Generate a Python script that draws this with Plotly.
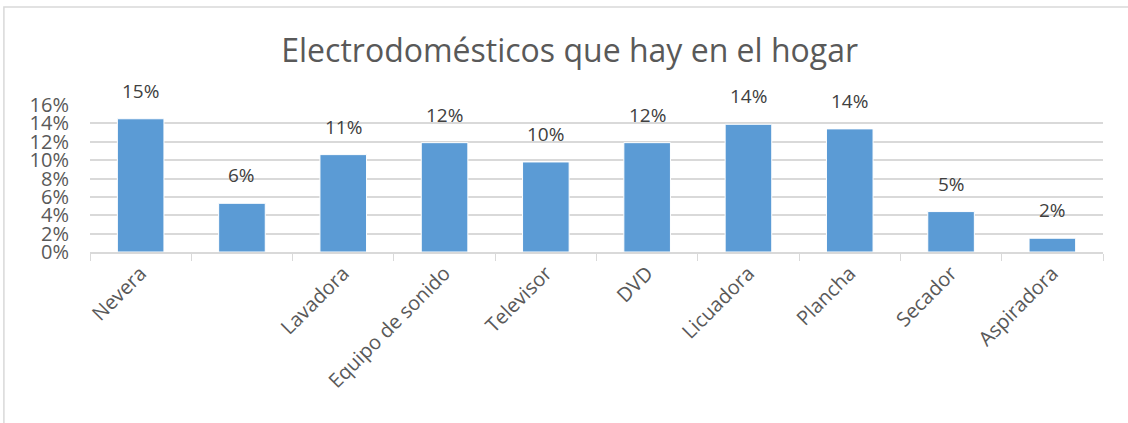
import plotly.graph_objects as go

categories = ["Nevera", " ", "Lavadora", "Equipo de sonido", "Televisor", "DVD",
              "Licuadora", "Plancha", "Secador", "Aspiradora"]
values = [0.145, 0.053, 0.106, 0.119, 0.098, 0.119, 0.139, 0.134, 0.044, 0.015]
labels = ["15%", "6%", "11%", "12%", "10%", "12%", "14%", "14%", "5%", "2%"]
y_ticks = [0, 0.02, 0.04, 0.06, 0.08, 0.10, 0.12, 0.14, 0.16]

FONT = "Open Sans"
GREY = "#595959"

fig = go.Figure()
fig.add_trace(go.Bar(
    x=categories, y=values, width=0.46,
    marker=dict(color="#5B9BD5", line=dict(color="white", width=1)),
    hoverinfo="skip",
))

# data labels sit a little above each bar, like the Excel original
for cat, val, lab in zip(categories, values, labels):
    fig.add_annotation(x=cat, y=val, text=lab, showarrow=False, yshift=28,
                       font=dict(family=FONT, size=19, color="#404040"))

# outer chart frame
fig.add_shape(type="rect", xref="paper", yref="paper",
              x0=-0.085, x1=1.03, y0=-1.2, y1=1.667,
              line=dict(color="#d9d9d9", width=1.5), layer="below")

fig.update_layout(
    width=1128, height=423,
    margin=dict(l=90, r=25, t=105, b=171),
    paper_bgcolor="white", plot_bgcolor="white",
    showlegend=False,
    title=dict(text="Electrodomésticos que hay en el hogar", x=0.505, xanchor="center",
               y=0.88, yanchor="middle",
               font=dict(family=FONT, size=32, color=GREY)),
    bargap=0.54,
)
fig.update_xaxes(
    type="category", tickangle=-45, tickson="boundaries",
    ticks="outside", ticklen=7, tickcolor="#d9d9d9",
    showline=True, linecolor="#d9d9d9", linewidth=1.5,
    tickfont=dict(family=FONT, size=20, color=GREY),
    automargin=False,
)
fig.update_yaxes(
    range=[0, 0.16], tickvals=y_ticks, tickformat=".0%",
    showgrid=True, gridcolor="#d9d9d9", gridwidth=1.5,
    zeroline=False, ticklabelstandoff=20,
    tickfont=dict(family=FONT, size=20, color=GREY),
    automargin=False,
)

# drop the page's default body margin so the figure sits at the window corner
fig.write_html("out.html", config={"displayModeBar": False},
               post_script="document.body.style.margin='0';")
